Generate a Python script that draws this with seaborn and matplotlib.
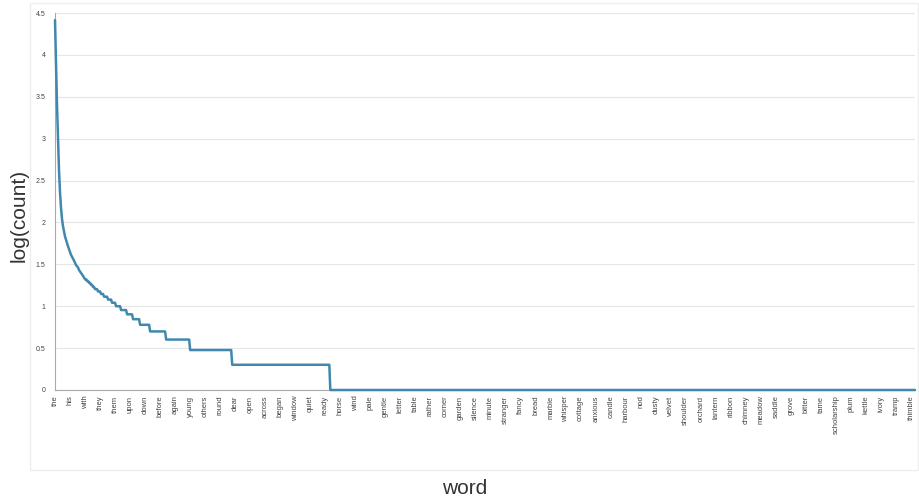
import numpy as np
import pandas as pd
import matplotlib
matplotlib.use("Agg")
import matplotlib.pyplot as plt
import matplotlib.ticker as mticker
from matplotlib.patches import Rectangle
import seaborn as sns

# counts of the most frequent words, in rank order
top_counts = [26000, 7900, 2500, 1000, 420, 230, 150, 110, 90, 78,
              68, 62, 57, 52, 48, 44, 41, 39, 37, 35,
              33, 31, 30, 29, 27, 26, 25, 24, 23, 22,
              21, 21, 20, 20, 19, 19, 18, 18, 17, 17,
              16, 16, 16, 15, 15, 15, 14, 14, 14, 13,
              13, 13, 13, 12, 12, 12, 12, 11, 11, 11,
              11, 10, 10, 10, 10, 10]

# the flat tail: how many words share each small count
tail_counts = [9, 8, 7, 6, 5, 4, 3, 2, 1]
tail_sizes = [6, 6, 7, 10, 16, 24, 42, 98, 585]

# labels shown on the x axis (every 15th word)
tick_words = ['the', 'his', 'with', 'they', 'them', 'upon', 'down', 'before',
              'again', 'young', 'others', 'round', 'dear', 'open', 'across',
              'began', 'window', 'quiet', 'ready', 'horse', 'wind', 'pale',
              'gentle', 'letter', 'table', 'rather', 'corner', 'garden',
              'silence', 'minute', 'stranger', 'fancy', 'bread', 'marble',
              'whisper', 'cottage', 'anxious', 'candle', 'harbour', 'nod',
              'dusty', 'velvet', 'shoulder', 'orchard', 'lantern', 'ribbon',
              'chimney', 'meadow', 'saddle', 'grove', 'bitter', 'tame',
              'scholarship', 'plum', 'kettle', 'ivory', 'tramp', 'thimble']

counts = list(top_counts) + list(np.repeat(tail_counts, tail_sizes))
df = pd.DataFrame({'rank': np.arange(len(counts)),
                   'log_count': np.log10(counts)})

sns.set_theme(style="white")
plt.rcParams['font.family'] = ['Liberation Sans', 'DejaVu Sans']

fig = plt.figure(figsize=(9.19, 4.97), dpi=100)
W, H = 919, 497
ax = fig.add_axes([55 / W, (H - 390) / H, 860 / W, 377 / H])

# faint frame round the whole chart
fig.patches.append(Rectangle((30 / W, (H - 470) / H), 888 / W, 467 / H,
                             transform=fig.transFigure, fill=False,
                             ec='#eeeeee', lw=1))

sns.lineplot(data=df, x='rank', y='log_count', ax=ax, color='#4088ad',
             linewidth=1.8, sort=False, clip_on=False, zorder=3)

ax.set_xlim(0, len(counts) - 1)
ax.set_ylim(0, 4.5)
ax.set_yticks(np.arange(0, 4.51, 0.5))
ax.yaxis.set_major_formatter(mticker.FuncFormatter(lambda v, p: f'{v:g}'))
ax.set_xticks(np.arange(0, len(counts), 15)[:len(tick_words)])
ax.set_xticklabels(tick_words, rotation=90)

ax.grid(axis='y', color='#e6e6e6', lw=0.8)
ax.grid(axis='x', visible=False)
for s in ['top', 'right']:
    ax.spines[s].set_visible(False)
for s in ['left', 'bottom']:
    ax.spines[s].set_color('#aaaaaa')
    ax.spines[s].set_linewidth(0.8)

ax.tick_params(axis='both', labelsize=5.5, colors='#444444', length=2,
               width=0.5, pad=2)
ax.tick_params(axis='y', labelsize=5, pad=5)

ax.set_xlabel('word', fontsize=15, color='#333333')
ax.set_ylabel('log(count)', fontsize=15, color='#333333')
ax.xaxis.set_label_coords(0.476, -0.235)
ax.yaxis.set_label_coords(-0.031, 0.464)

plt.savefig('out.png', dpi=100)
